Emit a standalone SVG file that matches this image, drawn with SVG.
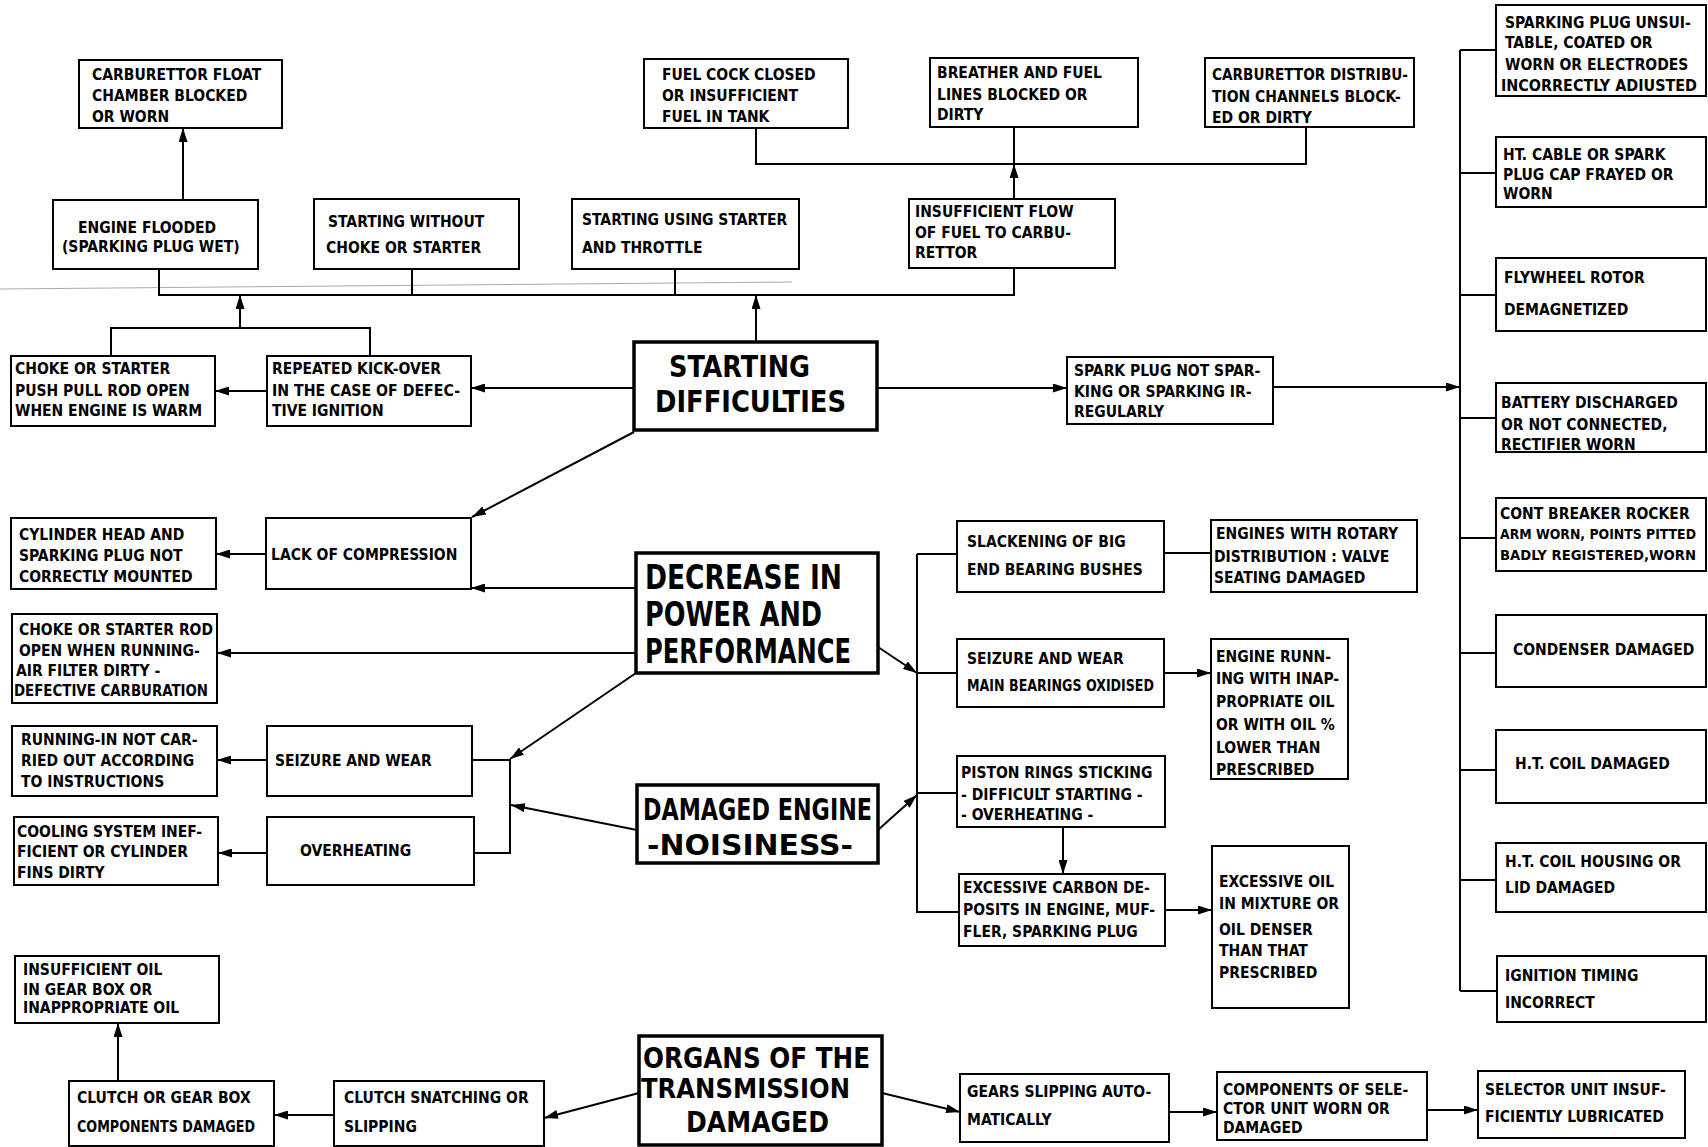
<svg xmlns="http://www.w3.org/2000/svg" width="1708" height="1147" viewBox="0 0 1708 1147">
<style>
.box{fill:#fff;stroke:#000;stroke-width:2}
.tbox{fill:#fff;stroke:#000;stroke-width:3.5}
.t{font-family:"DejaVu Sans Condensed","DejaVu Sans",sans-serif;font-weight:bold;font-size:15.5px;fill:#000}
.s{font-size:14px}
.h{font-family:"DejaVu Sans Condensed","DejaVu Sans",sans-serif;font-weight:bold;fill:#000}
.c{fill:none;stroke:#000;stroke-width:2}
.a{marker-end:url(#ah)}
</style>
<defs>
<marker id="ah" viewBox="0 0 14 9" refX="14" refY="4.5" markerWidth="14" markerHeight="9" markerUnits="userSpaceOnUse" orient="auto"><path d="M0,0 L14,4.5 L0,9 z" fill="#000"/></marker>
</defs>
<rect width="1708" height="1147" fill="#fff"/>
<line x1="0" y1="289" x2="792" y2="282" stroke="#aaa" stroke-width="1"/>
<g id="connectors">
<path class="c a" d="M183,200 V128"/>
<path class="c" d="M159,269 V295 H1014 V268"/>
<path class="c" d="M412,269 V295"/>
<path class="c" d="M675,269 V295"/>
<path class="c a" d="M240,328 V295"/>
<path class="c" d="M111,356 V328 H370 V356"/>
<path class="c a" d="M756,342 V295"/>
<path class="c" d="M756,128 V164 H1306 V127"/>
<path class="c" d="M1014,127 V164"/>
<path class="c a" d="M1014,199 V164"/>
<path class="c a" d="M634,388 H471"/>
<path class="c a" d="M267,391 H215"/>
<path class="c a" d="M877,388 H1067"/>
<path class="c a" d="M1273,387 H1460"/>
<path class="c" d="M1460,50 V991"/>
<path class="c" d="M1460,50 H1496 M1460,173 H1496 M1460,295 H1496 M1460,418 H1496 M1460,538 H1496 M1460,653 H1496 M1460,770 H1496 M1460,880 H1496 M1460,991 H1497"/>
<path class="c a" d="M634,432 L472,517"/>
<path class="c a" d="M636,588 H471"/>
<path class="c a" d="M636,653 H217"/>
<path class="c a" d="M636,673 L510,759"/>
<path class="c" d="M472,760 H510 V853 H474"/>
<path class="c a" d="M637,830 L511,805"/>
<path class="c a" d="M266,554 H216"/>
<path class="c a" d="M267,760 H217"/>
<path class="c a" d="M267,853 H218"/>
<path class="c a" d="M878,647 L917,673"/>
<path class="c a" d="M878,830 L917,795"/>
<path class="c" d="M917,554 V912 H959"/>
<path class="c" d="M917,554 H957 M917,673 H957 M917,793 H957"/>
<path class="c" d="M1164,553 H1211"/>
<path class="c a" d="M1164,673 H1211"/>
<path class="c a" d="M1063,827 V874"/>
<path class="c a" d="M1165,910 H1212"/>
<path class="c a" d="M639,1093 L544,1118"/>
<path class="c a" d="M334,1115 H274"/>
<path class="c a" d="M118,1081 V1023"/>
<path class="c a" d="M882,1093 L960,1112"/>
<path class="c a" d="M1169,1112 H1217"/>
<path class="c a" d="M1427,1110 H1478"/>
</g>
<g id="carb_float"><rect class="box" x="79" y="60" width="203" height="68"/><text class="t"><tspan x="92" y="80">CARBURETTOR  FLOAT</tspan><tspan x="92" y="101">CHAMBER BLOCKED</tspan><tspan x="92" y="122">OR  WORN</tspan></text></g>
<g id="fuel_cock"><rect class="box" x="644" y="59" width="204" height="69"/><text class="t"><tspan x="662" y="80">FUEL COCK  CLOSED</tspan><tspan x="662" y="101">OR  INSUFFICIENT</tspan><tspan x="662" y="122">FUEL  IN  TANK</tspan></text></g>
<g id="breather"><rect class="box" x="930" y="58" width="208" height="69"/><text class="t"><tspan x="937" y="78">BREATHER AND FUEL</tspan><tspan x="937" y="100">LINES  BLOCKED  OR</tspan><tspan x="937" y="120">DIRTY</tspan></text></g>
<g id="carb_distrib"><rect class="box" x="1205" y="58" width="209" height="69"/><text class="t"><tspan x="1212" y="80" textLength="196" lengthAdjust="spacingAndGlyphs">CARBURETTOR DISTRIBU-</tspan><tspan x="1212" y="102">TION CHANNELS BLOCK-</tspan><tspan x="1212" y="123">ED OR DIRTY</tspan></text></g>
<g id="engine_flooded"><rect class="box" x="53" y="200" width="205" height="69"/><text class="t"><tspan x="78" y="233">ENGINE  FLOODED</tspan><tspan x="62" y="252">(SPARKING PLUG WET)</tspan></text></g>
<g id="start_without"><rect class="box" x="314" y="199" width="205" height="70"/><text class="t"><tspan x="328" y="227">STARTING  WITHOUT</tspan><tspan x="326" y="253">CHOKE  OR  STARTER</tspan></text></g>
<g id="start_using"><rect class="box" x="572" y="199" width="227" height="70"/><text class="t"><tspan x="582" y="225">STARTING  USING  STARTER</tspan><tspan x="582" y="253">AND  THROTTLE</tspan></text></g>
<g id="insuff_flow"><rect class="box" x="909" y="199" width="206" height="69"/><text class="t"><tspan x="915" y="217">INSUFFICIENT  FLOW</tspan><tspan x="915" y="238">OF  FUEL  TO  CARBU-</tspan><tspan x="915" y="258">RETTOR</tspan></text></g>
<g id="choke_warm"><rect class="box" x="11" y="356" width="204" height="70"/><text class="t"><tspan x="15" y="374">CHOKE  OR  STARTER</tspan><tspan x="15" y="396">PUSH PULL ROD OPEN</tspan><tspan x="15" y="416">WHEN ENGINE IS WARM</tspan></text></g>
<g id="repeated"><rect class="box" x="267" y="356" width="204" height="70"/><text class="t"><tspan x="272" y="374">REPEATED KICK-OVER</tspan><tspan x="272" y="396" textLength="188" lengthAdjust="spacingAndGlyphs">IN THE CASE OF DEFEC-</tspan><tspan x="272" y="416">TIVE  IGNITION</tspan></text></g>
<g id="starting_diff"><rect class="tbox" x="634" y="342" width="243" height="88"/><text class="h" font-size="30"><tspan x="669" y="377" textLength="141" lengthAdjust="spacingAndGlyphs">STARTING</tspan></text><text class="h" font-size="30"><tspan x="655" y="412" textLength="191" lengthAdjust="spacingAndGlyphs">DIFFICULTIES</tspan></text></g>
<g id="spark_not"><rect class="box" x="1067" y="357" width="206" height="67"/><text class="t"><tspan x="1074" y="376">SPARK PLUG NOT SPAR-</tspan><tspan x="1074" y="397">KING OR SPARKING IR-</tspan><tspan x="1074" y="417">REGULARLY</tspan></text></g>
<g id="sp_unsuit"><rect class="box" x="1496" y="5" width="210" height="91"/><text class="t"><tspan x="1505" y="28">SPARKING PLUG UNSUI-</tspan><tspan x="1505" y="48">TABLE, COATED  OR</tspan><tspan x="1505" y="70">WORN OR ELECTRODES</tspan><tspan x="1501" y="91" textLength="196" lengthAdjust="spacingAndGlyphs">INCORRECTLY ADIUSTED</tspan></text></g>
<g id="ht_cable"><rect class="box" x="1496" y="137" width="210" height="70"/><text class="t"><tspan x="1503" y="160">HT. CABLE  OR  SPARK</tspan><tspan x="1503" y="180">PLUG CAP FRAYED OR</tspan><tspan x="1503" y="199">WORN</tspan></text></g>
<g id="flywheel"><rect class="box" x="1496" y="258" width="210" height="73"/><text class="t"><tspan x="1504" y="283">FLYWHEEL  ROTOR</tspan><tspan x="1504" y="315">DEMAGNETIZED</tspan></text></g>
<g id="battery"><rect class="box" x="1496" y="383" width="210" height="69"/><text class="t"><tspan x="1501" y="408">BATTERY DISCHARGED</tspan><tspan x="1501" y="430">OR NOT CONNECTED,</tspan><tspan x="1501" y="450">RECTIFIER WORN</tspan></text></g>
<g id="cont_breaker"><rect class="box" x="1496" y="498" width="210" height="73"/><text class="t"><tspan x="1500" y="519">CONT BREAKER ROCKER</tspan></text><text class="t s"><tspan x="1500" y="539" textLength="196" lengthAdjust="spacingAndGlyphs">ARM WORN, POINTS PITTED</tspan></text><text class="t s"><tspan x="1500" y="560" textLength="196" lengthAdjust="spacingAndGlyphs">BADLY REGISTERED,WORN</tspan></text></g>
<g id="condenser"><rect class="box" x="1496" y="615" width="210" height="72"/><text class="t"><tspan x="1513" y="655">CONDENSER  DAMAGED</tspan></text></g>
<g id="ht_coil"><rect class="box" x="1496" y="730" width="210" height="73"/><text class="t"><tspan x="1515" y="769">H.T.  COIL  DAMAGED</tspan></text></g>
<g id="ht_housing"><rect class="box" x="1496" y="843" width="210" height="69"/><text class="t"><tspan x="1505" y="867">H.T.  COIL  HOUSING  OR</tspan><tspan x="1505" y="893">LID  DAMAGED</tspan></text></g>
<g id="ignition"><rect class="box" x="1497" y="956" width="209" height="66"/><text class="t"><tspan x="1505" y="981">IGNITION  TIMING</tspan><tspan x="1505" y="1008">INCORRECT</tspan></text></g>
<g id="cyl_head"><rect class="box" x="11" y="518" width="205" height="71"/><text class="t"><tspan x="19" y="540">CYLINDER  HEAD  AND</tspan><tspan x="19" y="561">SPARKING  PLUG  NOT</tspan><tspan x="19" y="582">CORRECTLY  MOUNTED</tspan></text></g>
<g id="lack"><rect class="box" x="266" y="518" width="205" height="71"/><text class="t"><tspan x="271" y="560">LACK OF COMPRESSION</tspan></text></g>
<g id="choke_rod"><rect class="box" x="12" y="614" width="205" height="89"/><text class="t"><tspan x="19" y="635" textLength="194" lengthAdjust="spacingAndGlyphs">CHOKE OR STARTER ROD</tspan><tspan x="19" y="656">OPEN WHEN RUNNING-</tspan><tspan x="16" y="676">AIR  FILTER  DIRTY -</tspan><tspan x="14" y="696" textLength="194" lengthAdjust="spacingAndGlyphs">DEFECTIVE CARBURATION</tspan></text></g>
<g id="running_in"><rect class="box" x="12" y="726" width="205" height="70"/><text class="t"><tspan x="21" y="745">RUNNING-IN  NOT  CAR-</tspan><tspan x="21" y="766">RIED  OUT  ACCORDING</tspan><tspan x="21" y="787">TO  INSTRUCTIONS</tspan></text></g>
<g id="seizure_l"><rect class="box" x="267" y="726" width="205" height="70"/><text class="t"><tspan x="275" y="766">SEIZURE  AND  WEAR</tspan></text></g>
<g id="cooling"><rect class="box" x="14" y="817" width="204" height="68"/><text class="t"><tspan x="17" y="837">COOLING SYSTEM INEF-</tspan><tspan x="17" y="857">FICIENT OR CYLINDER</tspan><tspan x="17" y="878">FINS  DIRTY</tspan></text></g>
<g id="overheating"><rect class="box" x="267" y="817" width="207" height="68"/><text class="t"><tspan x="300" y="856">OVERHEATING</tspan></text></g>
<g id="decrease"><rect class="tbox" x="636" y="553" width="242" height="120"/><text class="h" font-size="34"><tspan x="645" y="589" textLength="197" lengthAdjust="spacingAndGlyphs">DECREASE  IN</tspan></text><text class="h" font-size="34"><tspan x="645" y="626" textLength="177" lengthAdjust="spacingAndGlyphs">POWER  AND</tspan></text><text class="h" font-size="34"><tspan x="645" y="663" textLength="206" lengthAdjust="spacingAndGlyphs">PERFORMANCE</tspan></text></g>
<g id="damaged"><rect class="tbox" x="637" y="785" width="241" height="78"/><text class="h" font-size="30"><tspan x="643" y="820" textLength="229" lengthAdjust="spacingAndGlyphs">DAMAGED ENGINE</tspan></text><text class="h" font-size="28"><tspan x="647" y="855" textLength="206" lengthAdjust="spacingAndGlyphs">-NOISINESS-</tspan></text></g>
<g id="slackening"><rect class="box" x="957" y="521" width="207" height="71"/><text class="t"><tspan x="967" y="547">SLACKENING  OF  BIG</tspan><tspan x="967" y="575">END  BEARING  BUSHES</tspan></text></g>
<g id="rotary"><rect class="box" x="1211" y="520" width="206" height="72"/><text class="t"><tspan x="1216" y="539">ENGINES  WITH  ROTARY</tspan><tspan x="1214" y="562">DISTRIBUTION : VALVE</tspan><tspan x="1214" y="583">SEATING DAMAGED</tspan></text></g>
<g id="seizure_main"><rect class="box" x="957" y="639" width="207" height="68"/><text class="t"><tspan x="967" y="664">SEIZURE  AND  WEAR</tspan><tspan x="967" y="691" textLength="187" lengthAdjust="spacingAndGlyphs">MAIN  BEARINGS OXIDISED</tspan></text></g>
<g id="eng_running"><rect class="box" x="1211" y="639" width="137" height="140"/><text class="t"><tspan x="1216" y="662">ENGINE  RUNN-</tspan><tspan x="1216" y="684">ING  WITH  INAP-</tspan><tspan x="1216" y="707">PROPRIATE  OIL</tspan><tspan x="1216" y="730">OR WITH  OIL %</tspan><tspan x="1216" y="753">LOWER  THAN</tspan><tspan x="1216" y="775">PRESCRIBED</tspan></text></g>
<g id="piston"><rect class="box" x="957" y="756" width="208" height="71"/><text class="t"><tspan x="961" y="778">PISTON RINGS STICKING</tspan><tspan x="961" y="800">- DIFFICULT  STARTING -</tspan><tspan x="961" y="820">- OVERHEATING -</tspan></text></g>
<g id="exc_carbon"><rect class="box" x="959" y="874" width="206" height="72"/><text class="t"><tspan x="963" y="893">EXCESSIVE CARBON DE-</tspan><tspan x="963" y="915" textLength="192" lengthAdjust="spacingAndGlyphs">POSITS IN ENGINE, MUF-</tspan><tspan x="963" y="937">FLER, SPARKING PLUG</tspan></text></g>
<g id="exc_oil"><rect class="box" x="1212" y="846" width="137" height="162"/><text class="t"><tspan x="1219" y="887">EXCESSIVE  OIL</tspan><tspan x="1219" y="909">IN MIXTURE OR</tspan><tspan x="1219" y="935">OIL  DENSER</tspan><tspan x="1219" y="956">THAN  THAT</tspan><tspan x="1219" y="978">PRESCRIBED</tspan></text></g>
<g id="insuff_oil"><rect class="box" x="15" y="956" width="204" height="67"/><text class="t"><tspan x="23" y="975">INSUFFICIENT  OIL</tspan><tspan x="23" y="995">IN  GEAR  BOX  OR</tspan><tspan x="23" y="1013">INAPPROPRIATE  OIL</tspan></text></g>
<g id="clutch_gear"><rect class="box" x="69" y="1081" width="205" height="65"/><text class="t"><tspan x="77" y="1103">CLUTCH  OR  GEAR  BOX</tspan><tspan x="77" y="1132" textLength="178" lengthAdjust="spacingAndGlyphs">COMPONENTS DAMAGED</tspan></text></g>
<g id="clutch_snatch"><rect class="box" x="334" y="1081" width="210" height="65"/><text class="t"><tspan x="344" y="1103">CLUTCH SNATCHING  OR</tspan><tspan x="344" y="1132">SLIPPING</tspan></text></g>
<g id="organs"><rect class="tbox" x="639" y="1036" width="243" height="109"/><text class="h" font-size="28"><tspan x="643" y="1068" textLength="227" lengthAdjust="spacingAndGlyphs">ORGANS OF  THE</tspan></text><text class="h" font-size="27"><tspan x="641" y="1098" textLength="209" lengthAdjust="spacingAndGlyphs">TRANSMISSION</tspan></text><text class="h" font-size="28"><tspan x="686" y="1132" textLength="143" lengthAdjust="spacingAndGlyphs">DAMAGED</tspan></text></g>
<g id="gears"><rect class="box" x="960" y="1074" width="209" height="68"/><text class="t"><tspan x="967" y="1097">GEARS  SLIPPING  AUTO-</tspan><tspan x="967" y="1125">MATICALLY</tspan></text></g>
<g id="components"><rect class="box" x="1217" y="1072" width="210" height="68"/><text class="t"><tspan x="1223" y="1095">COMPONENTS  OF  SELE-</tspan><tspan x="1223" y="1114">CTOR  UNIT  WORN  OR</tspan><tspan x="1223" y="1133">DAMAGED</tspan></text></g>
<g id="selector"><rect class="box" x="1478" y="1071" width="207" height="67"/><text class="t"><tspan x="1485" y="1095">SELECTOR  UNIT  INSUF-</tspan><tspan x="1485" y="1122">FICIENTLY  LUBRICATED</tspan></text></g>
</svg>
